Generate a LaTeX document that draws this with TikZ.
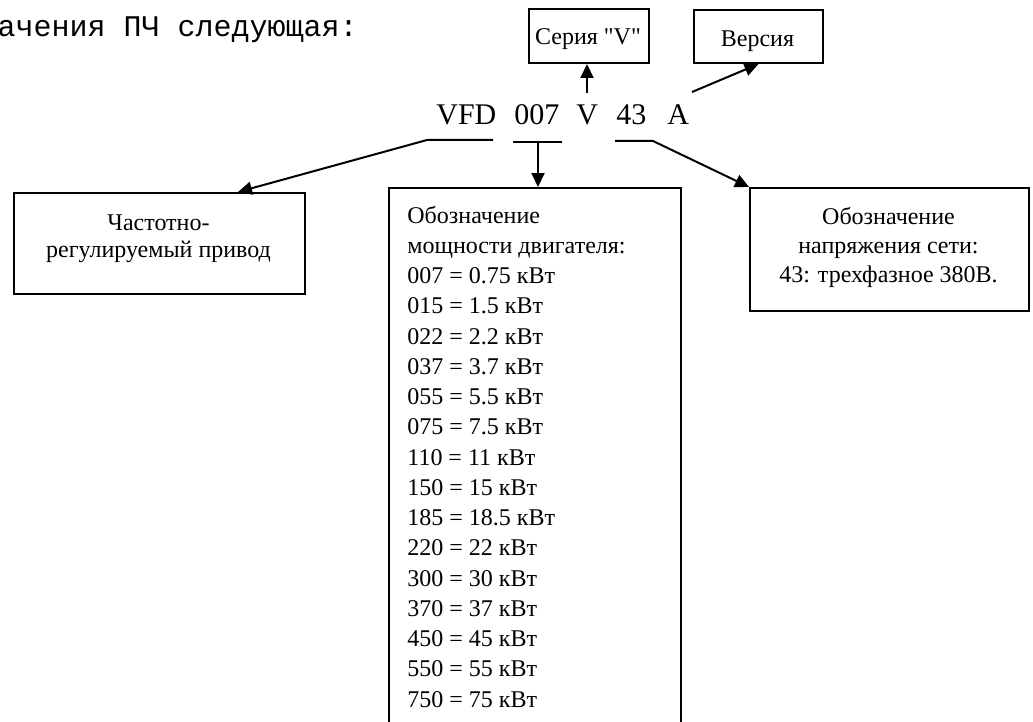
\documentclass[tikz,border=0pt]{standalone}
\usepackage{fontspec}
\setmainfont{Liberation Serif}
\newfontfamily\plainserif{Liberation Serif}
\newfontfamily\courfont{Liberation Mono}
\usetikzlibrary{arrows.meta}
\tikzset{
  box/.style={draw, line width=1pt, inner sep=0pt, anchor=north west},
  txt/.style={inner sep=0pt, font=\fontsize{12}{14}\selectfont},
  code/.style={inner sep=0pt, anchor=base west, font=\fontsize{15}{18}\selectfont},
  arr/.style={line width=1pt, -{Triangle[length=7pt,width=6.5pt]}},
  ln/.style={line width=1pt}
}
\begin{document}
\begin{tikzpicture}[x=0.5pt,y=-0.5pt]
\useasboundingbox (0,0) rectangle (1033,722);
\clip (0,0) rectangle (1033,722);

% heading fragment
\node[inner sep=0pt, anchor=base east, font=\courfont\fontsize{15}{18}\selectfont] (title) at (358,37) {ачения ПЧ следующая:};

% code
\node[code] (vfd) at (436,125) {VFD};
\node[code] (c007) at (514,125) {007};
\node[code] (cv) at (576,125) {V};
\node[code] (c43) at (616,125) {43};
\node[code] (ca) at (667,125) {A};

% boxes
\node[box, minimum width=60pt, minimum height=27pt] (ser) at (528,8) {};
\node[txt, anchor=base, font=\plainserif\fontsize{12}{14}\selectfont] (sert) at (588,45) {Серия "V"};
\node[box, minimum width=64.5pt, minimum height=26.5pt] (ver) at (693,9) {};
\node[txt, anchor=base] (vert) at (757.5,47) {Версия};

\node[box, minimum width=145.5pt, minimum height=50.5pt] (lbox) at (13,192) {};
\node[txt, anchor=base] (l1) at (158.5,230) {Частотно-};
\node[txt, anchor=base] (l2) at (158.5,257) {регулируемый привод};

\node[box, minimum width=146pt, minimum height=280pt] (pw) at (388,187) {};
\foreach \t [count=\i from 0] in {Обозначение, мощности двигателя:, 007 = 0.75 кВт, 015 = 1.5 кВт, 022 = 2.2 кВт, 037 = 3.7 кВт, 055 = 5.5 кВт, 075 = 7.5 кВт, 110 = 11 кВт, 150 = 15 кВт, 185 = 18.5 кВт, 220 = 22 кВт, 300 = 30 кВт, 370 = 37 кВт, 450 = 45 кВт, 550 = 55 кВт, 750 = 75 кВт}
  \node[txt, anchor=base west] (pl\i) at (407,{223+\i*30.25}) {\t};

\node[box, minimum width=139.5pt, minimum height=61.5pt] (rbox) at (749,187) {};
\node[txt, anchor=base] (r1) at (888.5,224) {Обозначение};
\node[txt, anchor=base] (r2) at (888.5,253) {напряжения сети:};
\node[txt, anchor=base] (r3) at (888.5,282) {43: трехфазное 380В.};

% connectors
\coordinate (u1a) at (493,140);
\coordinate (u1b) at (427,140);
\draw[arr] (u1a) -- (u1b) -- ([xshift=39.25pt]lbox.north);

\coordinate (u2a) at (513,142);
\coordinate (u2b) at (562,142);
\coordinate (u2m) at (538,142);
\draw[ln] (u2a) -- (u2b);
\draw[arr] (u2m) -- (u2m |- pw.north);

\coordinate (vt) at (587,93);
\draw[arr] (vt) -- (vt |- ser.south);

\coordinate (at) at (692,92);
\draw[arr] (at) -- (ver.south);

\coordinate (u3a) at (615,141);
\coordinate (u3b) at (653,141);
\draw[arr] (u3a) -- (u3b) -- (rbox.north west);
\end{tikzpicture}
\end{document}
